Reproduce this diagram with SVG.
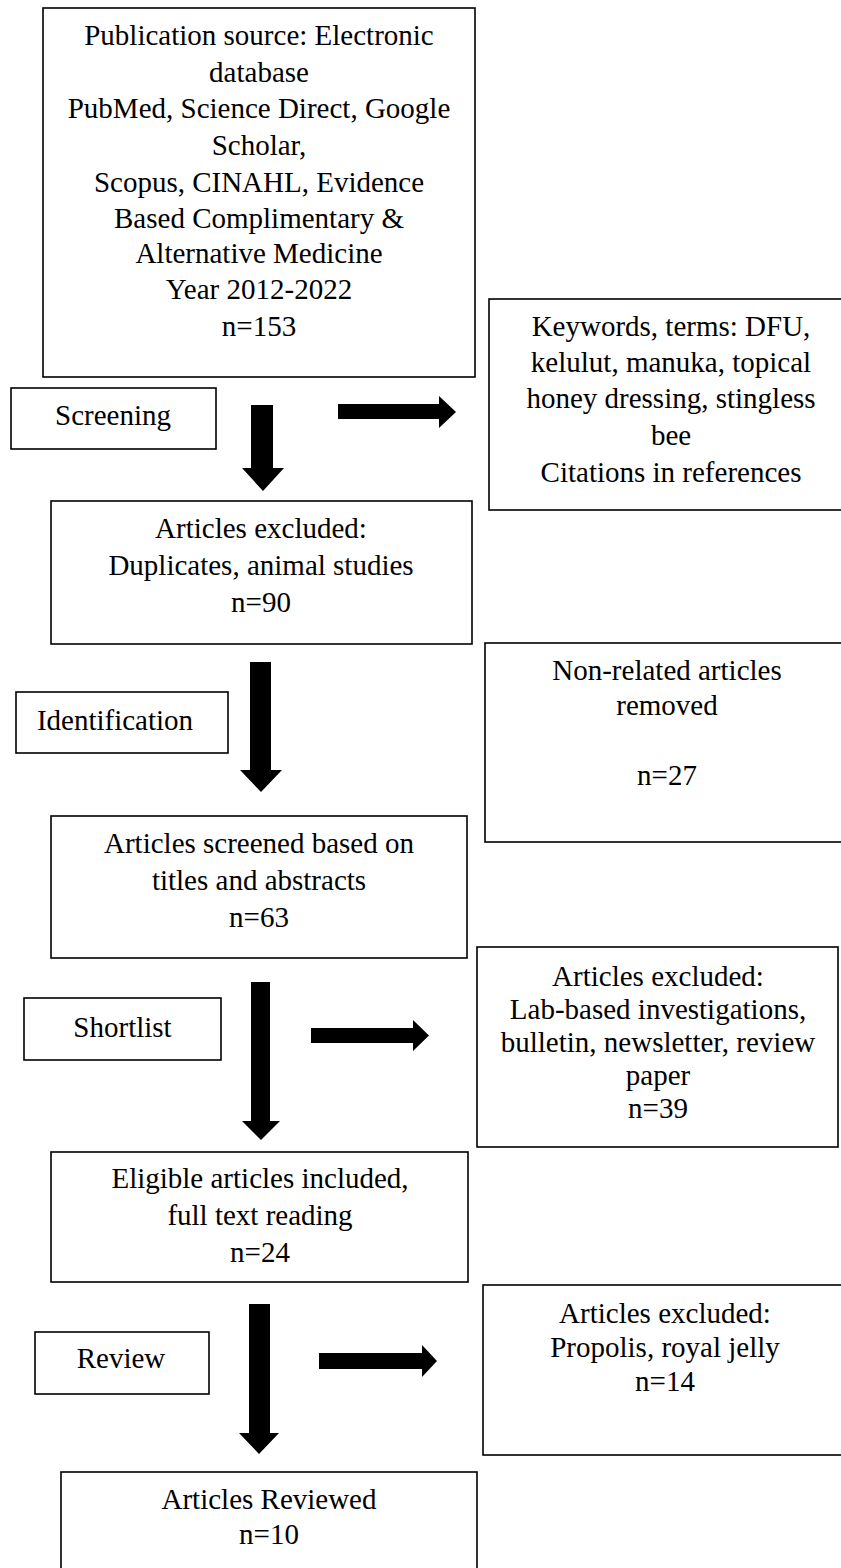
<svg xmlns="http://www.w3.org/2000/svg" width="841" height="1568" viewBox="0 0 841 1568">
<style>
.box{fill:none;stroke:#000;stroke-width:1.6}
.t{font-family:"Liberation Serif","Times New Roman",serif;font-size:29px;fill:#000;text-anchor:middle}
.arr{fill:#000}
</style>
<rect width="841" height="1568" fill="#fff"/>
<g id="connectors">
<polygon class="arr" points="251,405 273,405 273,468 284,468 263,491 242,468 251,468"/>
<polygon class="arr" points="338,404 439,404 439,396 456,412 439,428 439,419 338,419"/>
<polygon class="arr" points="250,662 271,662 271,770 282,770 261,792 240,770 250,770"/>
<polygon class="arr" points="251,982 270,982 270,1121 280,1121 261,1140 242,1121 251,1121"/>
<polygon class="arr" points="311,1028 413,1028 413,1020 429,1035.5 413,1051 413,1043 311,1043"/>
<polygon class="arr" points="249,1304 270,1304 270,1433 279,1433 259,1454 239,1433 249,1433"/>
<polygon class="arr" points="319,1353 422,1353 422,1345 437,1361 422,1377 422,1369 319,1369"/>
</g>
<g id="n-source">
<rect class="box" x="43" y="8" width="432" height="369"/>
<text class="t" x="259" y="45">Publication source: Electronic</text>
<text class="t" x="259" y="82">database</text>
<text class="t" x="259" y="118">PubMed, Science Direct, Google</text>
<text class="t" x="259" y="155">Scholar,</text>
<text class="t" x="259" y="192">Scopus, CINAHL, Evidence</text>
<text class="t" x="259" y="228">Based Complimentary &amp;</text>
<text class="t" x="259" y="263">Alternative Medicine</text>
<text class="t" x="259" y="299">Year 2012-2022</text>
<text class="t" x="259" y="336">n=153</text>
</g>
<g id="n-keywords">
<rect class="box" x="489" y="299" width="364" height="211"/>
<text class="t" x="671" y="336">Keywords, terms: DFU,</text>
<text class="t" x="671" y="372">kelulut, manuka, topical</text>
<text class="t" x="671" y="408">honey dressing, stingless</text>
<text class="t" x="671" y="445">bee</text>
<text class="t" x="671" y="482">Citations in references</text>
</g>
<g id="n-screening">
<rect class="box" x="11" y="388" width="205" height="61"/>
<text class="t" x="113" y="425">Screening</text>
</g>
<g id="n-excluded1">
<rect class="box" x="51" y="501" width="421" height="143"/>
<text class="t" x="261" y="538">Articles excluded:</text>
<text class="t" x="261" y="575">Duplicates, animal studies</text>
<text class="t" x="261" y="612">n=90</text>
</g>
<g id="n-nonrelated">
<rect class="box" x="485" y="643" width="364" height="199"/>
<text class="t" x="667" y="680">Non-related articles</text>
<text class="t" x="667" y="715">removed</text>
<text class="t" x="667" y="785">n=27</text>
</g>
<g id="n-identification">
<rect class="box" x="16" y="692" width="212" height="61"/>
<text class="t" x="115" y="730">Identification</text>
</g>
<g id="n-screened">
<rect class="box" x="51" y="816" width="416" height="142"/>
<text class="t" x="259" y="853">Articles screened based on</text>
<text class="t" x="259" y="890">titles and abstracts</text>
<text class="t" x="259" y="927">n=63</text>
</g>
<g id="n-excluded2">
<rect class="box" x="477" y="947" width="361" height="200"/>
<text class="t" x="658" y="986">Articles excluded:</text>
<text class="t" x="658" y="1019">Lab-based investigations,</text>
<text class="t" x="658" y="1052">bulletin, newsletter, review</text>
<text class="t" x="658" y="1085">paper</text>
<text class="t" x="658" y="1118">n=39</text>
</g>
<g id="n-shortlist">
<rect class="box" x="24" y="998" width="197" height="62"/>
<text class="t" x="122.5" y="1037">Shortlist</text>
</g>
<g id="n-eligible">
<rect class="box" x="51" y="1152" width="417" height="130"/>
<text class="t" x="260" y="1188">Eligible articles included,</text>
<text class="t" x="260" y="1225">full text reading</text>
<text class="t" x="260" y="1262">n=24</text>
</g>
<g id="n-excluded3">
<rect class="box" x="483" y="1285" width="364" height="170"/>
<text class="t" x="665" y="1323">Articles excluded:</text>
<text class="t" x="665" y="1357">Propolis, royal jelly</text>
<text class="t" x="665" y="1391">n=14</text>
</g>
<g id="n-review">
<rect class="box" x="35" y="1332" width="174" height="62"/>
<text class="t" x="121" y="1368">Review</text>
</g>
<g id="n-reviewed">
<rect class="box" x="61" y="1472" width="416" height="110"/>
<text class="t" x="269" y="1509">Articles Reviewed</text>
<text class="t" x="269" y="1544">n=10</text>
</g>
</svg>
